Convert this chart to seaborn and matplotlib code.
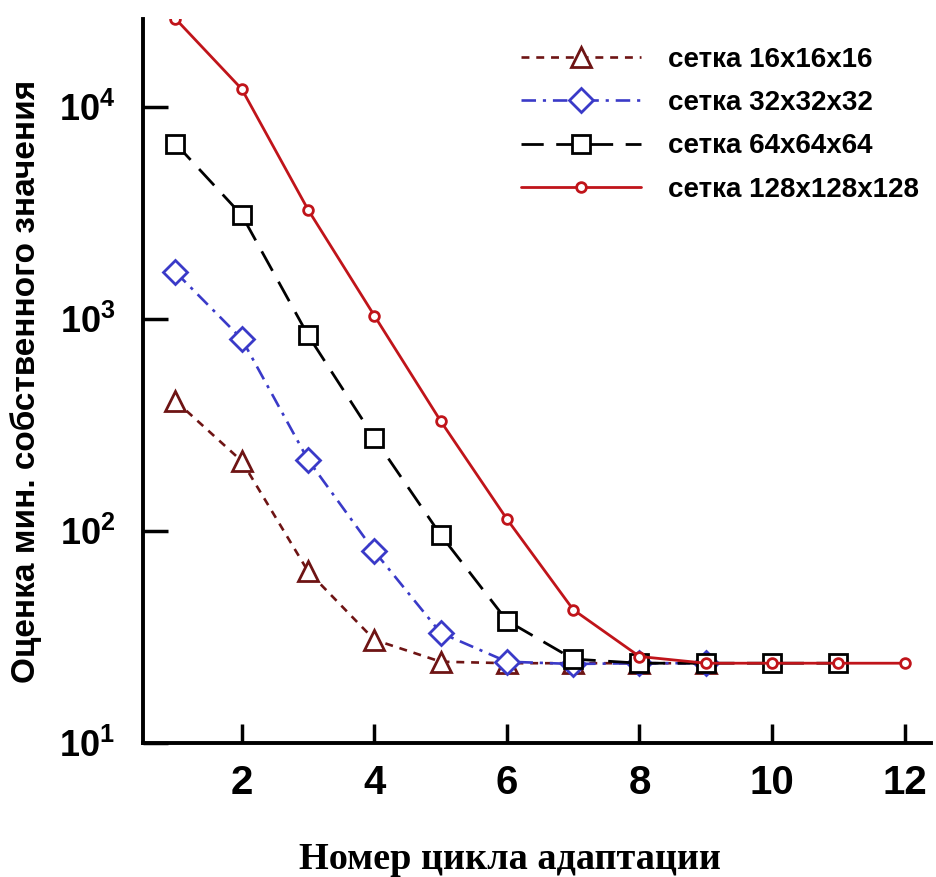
import numpy as np
import pandas as pd
import seaborn as sns
import matplotlib.pyplot as plt

# data
cycles = list(range(1, 13))
grid_labels = ['сетка 16x16x16', 'сетка 32x32x32', 'сетка 64x64x64', 'сетка 128x128x128']

eig_16 = [412, 214, 64.6, 30.7, 24.2, 23.8, 23.8, 23.8, 23.8]
eig_32 = [1670, 807, 217, 80.4, 33.1, 24.2, 23.6, 23.8, 23.8]
eig_64 = [6750, 3100, 840, 275, 96, 37.8, 24.9, 23.8, 23.8, 23.8, 23.8]
eig_128 = [26200, 12200, 3290, 1040, 331, 114, 42.6, 25.6, 23.8, 23.8, 23.8, 23.8]

x_ticks = [2, 4, 6, 8, 10, 12]
y_ticks = [10, 100, 1000, 10000]
y_ticklabels = [r'$\mathbf{10^1}$', r'$\mathbf{10^2}$', r'$\mathbf{10^3}$', r'$\mathbf{10^4}$']

sns.set_style("ticks")
plt.rcParams['font.family'] = ['Liberation Sans', 'DejaVu Sans']
plt.rcParams['mathtext.fontset'] = 'custom'
plt.rcParams['mathtext.rm'] = 'Liberation Sans:bold'
plt.rcParams['mathtext.bf'] = 'Liberation Sans:bold'
for k in ['text.color', 'axes.labelcolor', 'xtick.color', 'ytick.color', 'axes.edgecolor']:
    plt.rcParams[k] = 'black'

series = [eig_16, eig_32, eig_64, eig_128]
styles = [
    dict(color='#6e1414', marker='^', markersize=14, linestyle=(0, (3, 2.6)), linewidth=1.9),
    dict(color='#3a3ac8', marker='D', markersize=12, linestyle=(0, (5.5, 2.6, 1.2, 2.6)), linewidth=1.9),
    dict(color='black', marker='s', markersize=13, linestyle=(0, (8, 4.5)), linewidth=2.0),
    dict(color='#c0141a', marker='o', markersize=7, linestyle='-', linewidth=2.0),
]

fig = plt.figure(figsize=(9.36, 8.77), dpi=100)
ax = fig.add_axes([0.1528, 0.1528, 0.842, 0.825])

for vals, lab, st in zip(series, grid_labels, styles):
    df = pd.DataFrame({'cycle': cycles[:len(vals)], 'eig': vals})
    sns.lineplot(data=df, x='cycle', y='eig', ax=ax, label=lab,
                 markerfacecolor='white', markeredgecolor=st['color'],
                 markeredgewidth=2.0, **st)

ax.set_yscale('log')
ax.set_xlim(0.51, 12.4)
ax.set_ylim(10, 26000)
ax.set_xticks(x_ticks)
ax.set_xticklabels([str(t) for t in x_ticks], fontsize=29, fontweight='bold')
ax.set_yticks(y_ticks)
ax.set_yticklabels(y_ticklabels, fontsize=26)
ax.minorticks_off()
ax.tick_params(axis='x', direction='in', length=14, width=2.5, pad=15)
ax.tick_params(axis='y', direction='in', length=18, width=2.5, pad=20)

sns.despine(ax=ax)
for s in ['left', 'bottom']:
    ax.spines[s].set_linewidth(2.8)

ax.set_xlabel('')
ax.set_ylabel('Оценка мин. собственного значения', fontsize=24, fontweight='bold', labelpad=12)
fig.text(0.545, 0.02, 'Номер цикла адаптации', ha='center', va='center',
         fontsize=27.5, fontweight='bold', family='Liberation Serif')

leg = ax.legend(loc='upper left', bbox_to_anchor=(0.53, 0.975), bbox_transform=fig.transFigure,
                frameon=False, prop={'size': 20, 'weight': 'bold'},
                handlelength=4.3, handletextpad=1.0, labelspacing=0.62, numpoints=1)

fig.savefig('out.png', dpi=100)
